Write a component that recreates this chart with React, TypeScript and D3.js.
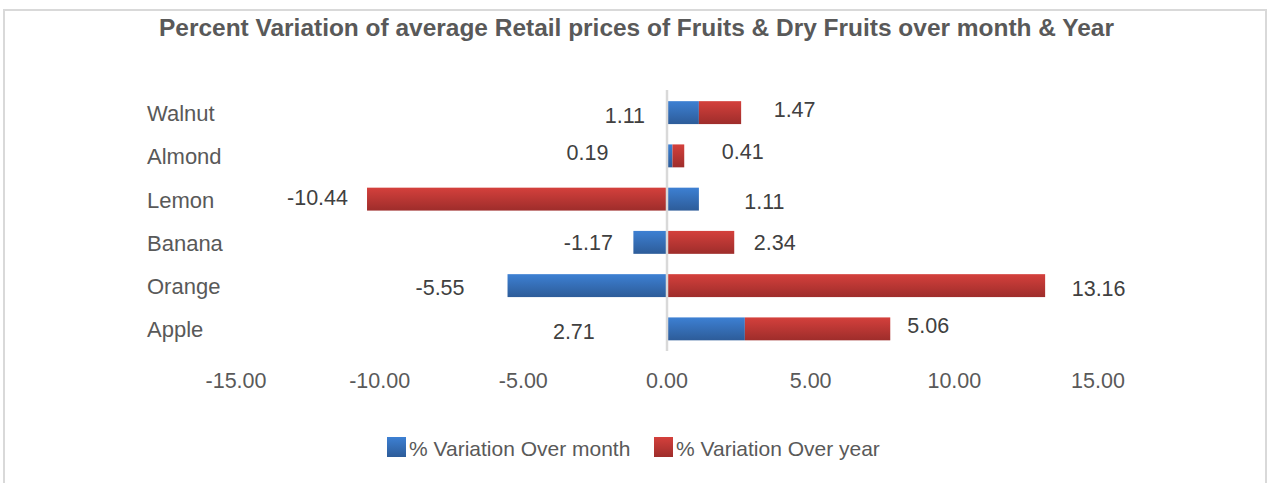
import React from "react";
import * as d3 from "d3";

const categories = ["Walnut", "Almond", "Lemon", "Banana", "Orange", "Apple"];
const overMonth = [1.11, 0.19, 1.11, -1.17, -5.55, 2.71];
const overYear = [1.47, 0.41, -10.44, 2.34, 13.16, 5.06];
const xTicks = [-15, -10, -5, 0, 5, 10, 15];
const seriesNames = ["% Variation Over month", "% Variation Over year"];
const title = "Percent Variation of average Retail prices of Fruits & Dry Fruits over month & Year";

// layout: manual nudges of data labels (px) from the outer end of their segment
const monthLabelNudge: [number, number][] = [[-74, 3.5], [-85, -2.5], [65.5, 3], [-45, 1], [-67.5, 2], [-171, 3.5]];
const yearLabelNudge: [number, number][] = [[53.5, -2.5], [58.5, -3.5], [-49.5, -1], [40.5, 1], [53.5, 3.5], [38, -2.5]];

const W = 1268;
const H = 483;
const FONT = "'Liberation Sans', Arial, sans-serif";

export default function App() {
  const x = d3.scaleLinear().domain([-15, 15]).range([236, 1098]);
  const y = d3.scaleBand<string>().domain(categories).range([91, 350.5]).paddingInner(0.47).paddingOuter(0.235);

  const rows = categories.map((c, i) => ({ cat: c, month: overMonth[i], year: overYear[i] }));
  const stacked = d3.stack<any>().keys(["month", "year"]).offset(d3.stackOffsetDiverging)(rows);
  const fills = ["url(#gBlue)", "url(#gRed)"];
  const nudges = [monthLabelNudge, yearLabelNudge];
  const bw = y.bandwidth();

  return (
    <svg width={W} height={H} style={{ position: "absolute", left: 0, top: 0, background: "#fff" }} fontFamily={FONT}>
      <defs>
        <linearGradient id="gBlue" x1="0" y1="0" x2="0" y2="1">
          <stop offset="0" stopColor="#3d80d3" />
          <stop offset="1" stopColor="#2d5c99" />
        </linearGradient>
        <linearGradient id="gRed" x1="0" y1="0" x2="0" y2="1">
          <stop offset="0" stopColor="#d4403c" />
          <stop offset="1" stopColor="#9e2d2b" />
        </linearGradient>
      </defs>
      <rect x={4} y={10} width={1262} height={H + 20} fill="#fff" stroke="#d9d9d9" strokeWidth={2} />
      <text x={636.5} y={28} textAnchor="middle" dominantBaseline="central" fontSize={23} fontWeight="bold" fill="#595959" textLength={955} lengthAdjust="spacingAndGlyphs">
        {title}
      </text>
      {/* category labels */}
      {categories.map((c) => (
        <text key={c} x={147} y={(y(c) as number) + bw / 2 + 1} dominantBaseline="central" fontSize={22} fill="#595959">
          {c}
        </text>
      ))}
      {/* bars */}
      {stacked.map((s, si) =>
        s.map((d, i) => {
          const x0 = x(Math.min(d[0], d[1]));
          const x1 = x(Math.max(d[0], d[1]));
          return <rect key={`${si}-${i}`} x={x0} y={y(categories[i])} width={x1 - x0} height={bw} fill={fills[si]} />;
        })
      )}
      {/* zero axis line */}
      <line x1={x(0)} x2={x(0)} y1={90} y2={351} stroke="#d9d9d9" strokeWidth={2.5} />
      {/* data labels */}
      {stacked.map((s, si) =>
        s.map((d, i) => {
          const v = si === 0 ? overMonth[i] : overYear[i];
          const outer = v >= 0 ? Math.max(d[0], d[1]) : Math.min(d[0], d[1]);
          const [dx, dy] = nudges[si][i];
          return (
            <text key={`l${si}-${i}`} x={x(outer) + dx} y={(y(categories[i]) as number) + bw / 2 + dy} textAnchor="middle" dominantBaseline="central" fontSize={21.5} fill="#404040">
              {v.toFixed(2)}
            </text>
          );
        })
      )}
      {/* x tick labels */}
      {xTicks.map((t) => (
        <text key={t} x={x(t)} y={381} textAnchor="middle" dominantBaseline="central" fontSize={21.5} fill="#595959">
          {t.toFixed(2)}
        </text>
      ))}
      {/* legend */}
      {seriesNames.map((n, i) => {
        const lx = [387, 654][i];
        return (
          <g key={n}>
            <rect x={lx} y={437} width={19} height={20} fill={fills[i]} />
            <text x={lx + 22} y={448} dominantBaseline="central" fontSize={21} fill="#595959">
              {n}
            </text>
          </g>
        );
      })}
    </svg>
  );
}
